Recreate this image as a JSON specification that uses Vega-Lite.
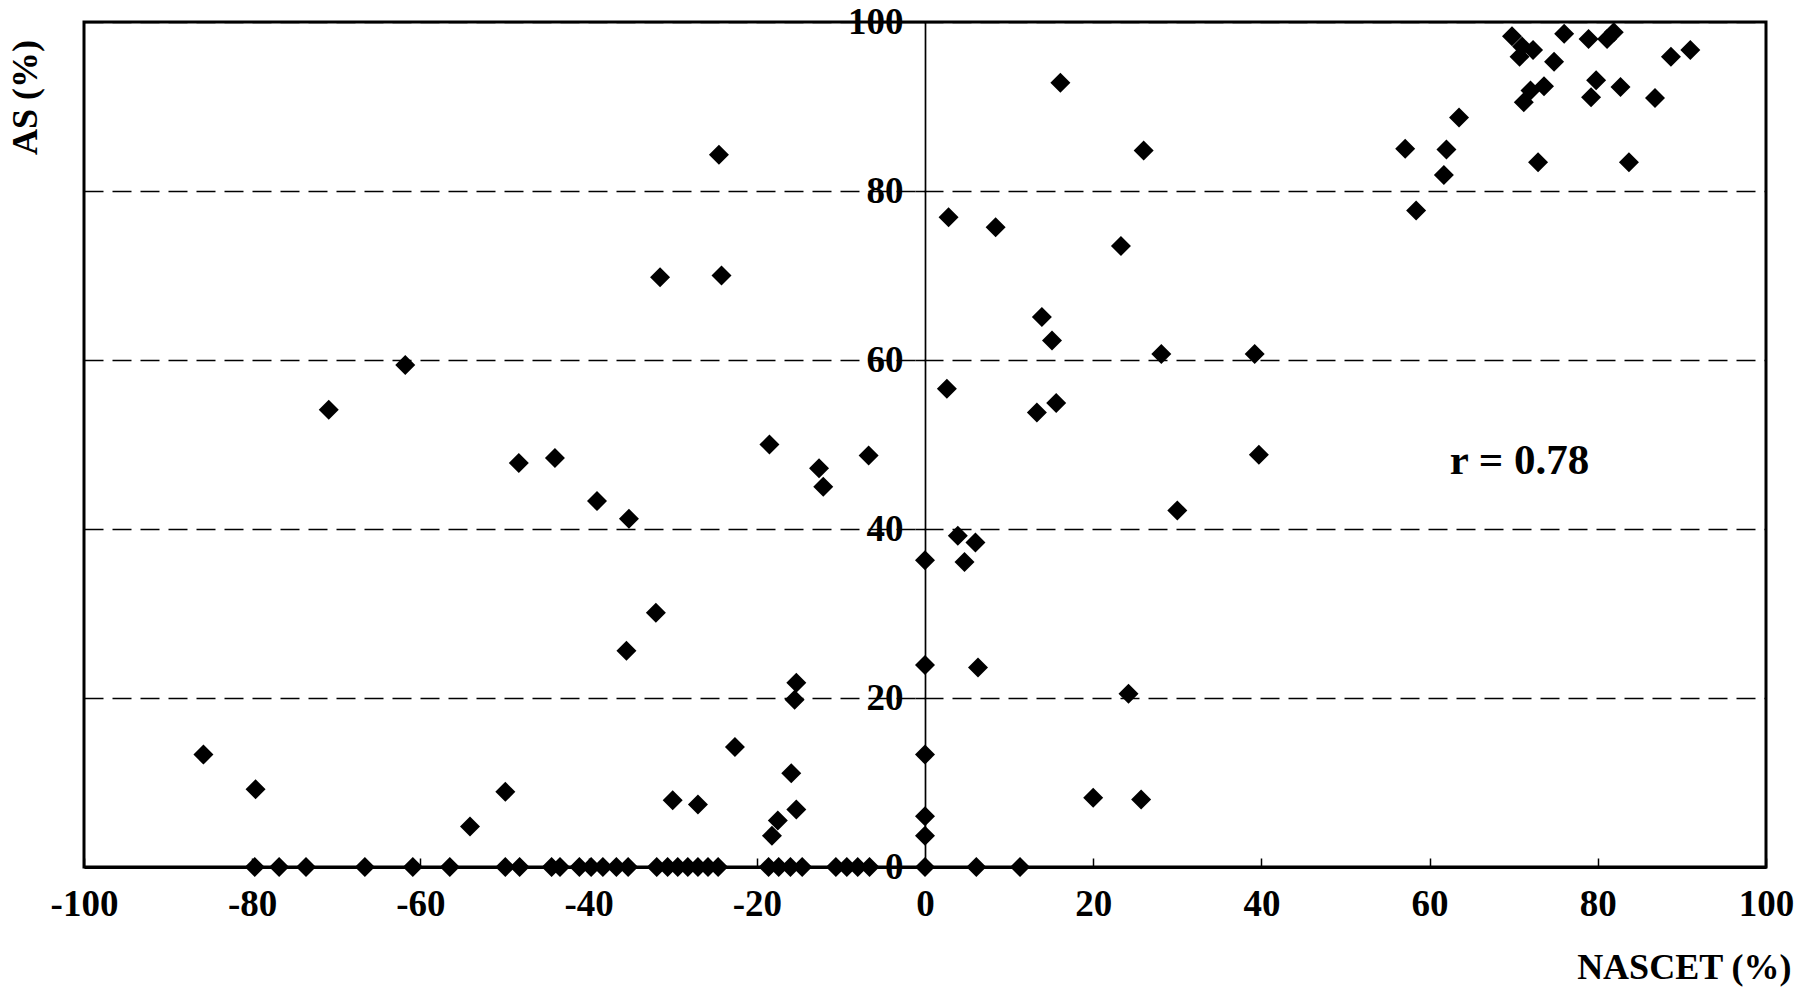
{
  "$schema": "https://vega.github.io/schema/vega-lite/v6.json",
  "width": 1682,
  "height": 845,
  "autosize": "none",
  "padding": {"left": 84, "top": 22, "right": 34, "bottom": 121},
  "background": "white",
  "config": {
    "view": {"stroke": "black", "strokeWidth": 3},
    "axis": {
      "labelFont": "Liberation Serif",
      "labelFontWeight": "bold",
      "labelFontSize": 37,
      "labelColor": "black",
      "titleFont": "Liberation Serif",
      "titleFontWeight": "bold",
      "titleFontSize": 36,
      "titleColor": "black",
      "domainColor": "black",
      "tickColor": "black"
    }
  },
  "layer": [
    {
      "data": {"values": [
        {"nascet": -79.7, "as": 0}, {"nascet": -76.8, "as": 0}, {"nascet": -73.6, "as": 0}, {"nascet": -66.6, "as": 0},
        {"nascet": -60.9, "as": 0}, {"nascet": -56.5, "as": 0}, {"nascet": -49.9, "as": 0}, {"nascet": -48.2, "as": 0},
        {"nascet": -44.4, "as": 0}, {"nascet": -43.4, "as": 0}, {"nascet": -41.1, "as": 0}, {"nascet": -39.7, "as": 0},
        {"nascet": -38.3, "as": 0}, {"nascet": -36.7, "as": 0}, {"nascet": -35.3, "as": 0}, {"nascet": -31.9, "as": 0},
        {"nascet": -30.6, "as": 0}, {"nascet": -29.4, "as": 0}, {"nascet": -28.2, "as": 0}, {"nascet": -27.0, "as": 0},
        {"nascet": -25.8, "as": 0}, {"nascet": -24.6, "as": 0}, {"nascet": -18.6, "as": 0}, {"nascet": -17.4, "as": 0},
        {"nascet": -16.0, "as": 0}, {"nascet": -14.6, "as": 0}, {"nascet": -10.6, "as": 0}, {"nascet": -9.3, "as": 0},
        {"nascet": -8.0, "as": 0}, {"nascet": -6.6, "as": 0}, {"nascet": 0, "as": 0}, {"nascet": 6.1, "as": 0},
        {"nascet": 11.3, "as": 0},
        {"nascet": -85.8, "as": 13.3}, {"nascet": -79.6, "as": 9.2}, {"nascet": -70.9, "as": 54.1}, {"nascet": -61.8, "as": 59.4},
        {"nascet": -54.1, "as": 4.8}, {"nascet": -49.9, "as": 8.9}, {"nascet": -48.3, "as": 47.8}, {"nascet": -44.0, "as": 48.4},
        {"nascet": -39.0, "as": 43.3}, {"nascet": -35.2, "as": 41.2}, {"nascet": -35.5, "as": 25.6}, {"nascet": -32.0, "as": 30.1},
        {"nascet": -31.5, "as": 69.8}, {"nascet": -30.0, "as": 7.9}, {"nascet": -27.0, "as": 7.4}, {"nascet": -24.5, "as": 84.3},
        {"nascet": -24.2, "as": 70.0}, {"nascet": -22.6, "as": 14.2}, {"nascet": -18.5, "as": 50.0}, {"nascet": -18.2, "as": 3.7},
        {"nascet": -17.5, "as": 5.5}, {"nascet": -15.9, "as": 11.1}, {"nascet": -15.3, "as": 21.8}, {"nascet": -15.5, "as": 19.8},
        {"nascet": -15.3, "as": 6.8}, {"nascet": -12.6, "as": 47.2}, {"nascet": -12.1, "as": 45.0}, {"nascet": -6.7, "as": 48.7},
        {"nascet": 0, "as": 36.3}, {"nascet": 0, "as": 23.9}, {"nascet": 0, "as": 13.3}, {"nascet": 0, "as": 6.0}, {"nascet": 0, "as": 3.7},
        {"nascet": 2.6, "as": 56.6}, {"nascet": 2.8, "as": 76.9}, {"nascet": 3.9, "as": 39.2}, {"nascet": 4.7, "as": 36.1},
        {"nascet": 6.0, "as": 38.4}, {"nascet": 6.3, "as": 23.6}, {"nascet": 8.4, "as": 75.7}, {"nascet": 13.3, "as": 53.8},
        {"nascet": 13.9, "as": 65.1}, {"nascet": 15.1, "as": 62.3}, {"nascet": 15.6, "as": 54.9}, {"nascet": 16.1, "as": 92.8},
        {"nascet": 20.0, "as": 8.2}, {"nascet": 23.3, "as": 73.5}, {"nascet": 24.2, "as": 20.5}, {"nascet": 25.7, "as": 8.0},
        {"nascet": 26.0, "as": 84.8}, {"nascet": 28.1, "as": 60.7}, {"nascet": 30.0, "as": 42.2}, {"nascet": 39.2, "as": 60.7},
        {"nascet": 39.7, "as": 48.8}, {"nascet": 57.1, "as": 85.0}, {"nascet": 58.4, "as": 77.7}, {"nascet": 61.7, "as": 81.9},
        {"nascet": 62.0, "as": 84.9}, {"nascet": 63.5, "as": 88.7}, {"nascet": 72.9, "as": 83.4}, {"nascet": 83.7, "as": 83.4},
        {"nascet": 69.8, "as": 98.3}, {"nascet": 71.0, "as": 97.1}, {"nascet": 72.3, "as": 96.7}, {"nascet": 70.7, "as": 95.9},
        {"nascet": 76.0, "as": 98.6}, {"nascet": 74.8, "as": 95.3}, {"nascet": 78.9, "as": 98.0}, {"nascet": 81.1, "as": 98.0},
        {"nascet": 81.9, "as": 98.8}, {"nascet": 88.7, "as": 95.9}, {"nascet": 91.0, "as": 96.7}, {"nascet": 73.6, "as": 92.4},
        {"nascet": 72.0, "as": 91.9}, {"nascet": 71.2, "as": 90.5}, {"nascet": 79.8, "as": 93.1}, {"nascet": 79.2, "as": 91.1},
        {"nascet": 82.7, "as": 92.3}, {"nascet": 86.8, "as": 91.0}
      ]},
      "mark": {"type": "point", "shape": "diamond", "filled": true, "color": "black", "size": 400, "opacity": 1},
      "encoding": {
        "x": {
          "field": "nascet", "type": "quantitative",
          "scale": {"domain": [-100, 100], "nice": false, "zero": false},
          "axis": {
            "values": [-100, -80, -60, -40, -20, 0, 20, 40, 60, 80, 100],
            "labelExpr": "datum.value < 0 ? '-' + abs(datum.value) : '' + datum.value",
            "labelFlush": false,
            "labelOverlap": false,
            "grid": false,
            "domainWidth": 3,
            "tickSize": -9,
            "tickWidth": 1.5,
            "labelPadding": 28,
            "title": "NASCET (%)",
            "titleAlign": "right",
            "titleBaseline": "alphabetic",
            "titleX": 1707,
            "titleY": 111
          }
        },
        "y": {
          "field": "as", "type": "quantitative",
          "scale": {"domain": [0, 100], "nice": false},
          "axis": {
            "values": [0, 20, 40, 60, 80, 100],
            "offset": -841,
            "grid": true,
            "gridDash": [19, 9],
            "gridColor": "black",
            "gridWidth": 1.5,
            "domainWidth": 1.7,
            "tickSize": 10,
            "tickWidth": 1.5,
            "labelPadding": 12,
            "labelFlush": false,
            "title": "AS (%)",
            "titleAngle": 270,
            "titleAlign": "center",
            "titleBaseline": "middle",
            "titleX": -900,
            "titleY": 75
          }
        }
      }
    },
    {
      "data": {"values": [{"nascet": 70.7, "as": 48.1, "label": "r = 0.78"}]},
      "mark": {"type": "text", "font": "Liberation Serif", "fontWeight": "bold", "fontSize": 43, "color": "black", "align": "center", "baseline": "middle"},
      "encoding": {
        "x": {"field": "nascet", "type": "quantitative"},
        "y": {"field": "as", "type": "quantitative"},
        "text": {"field": "label"}
      }
    }
  ]
}
